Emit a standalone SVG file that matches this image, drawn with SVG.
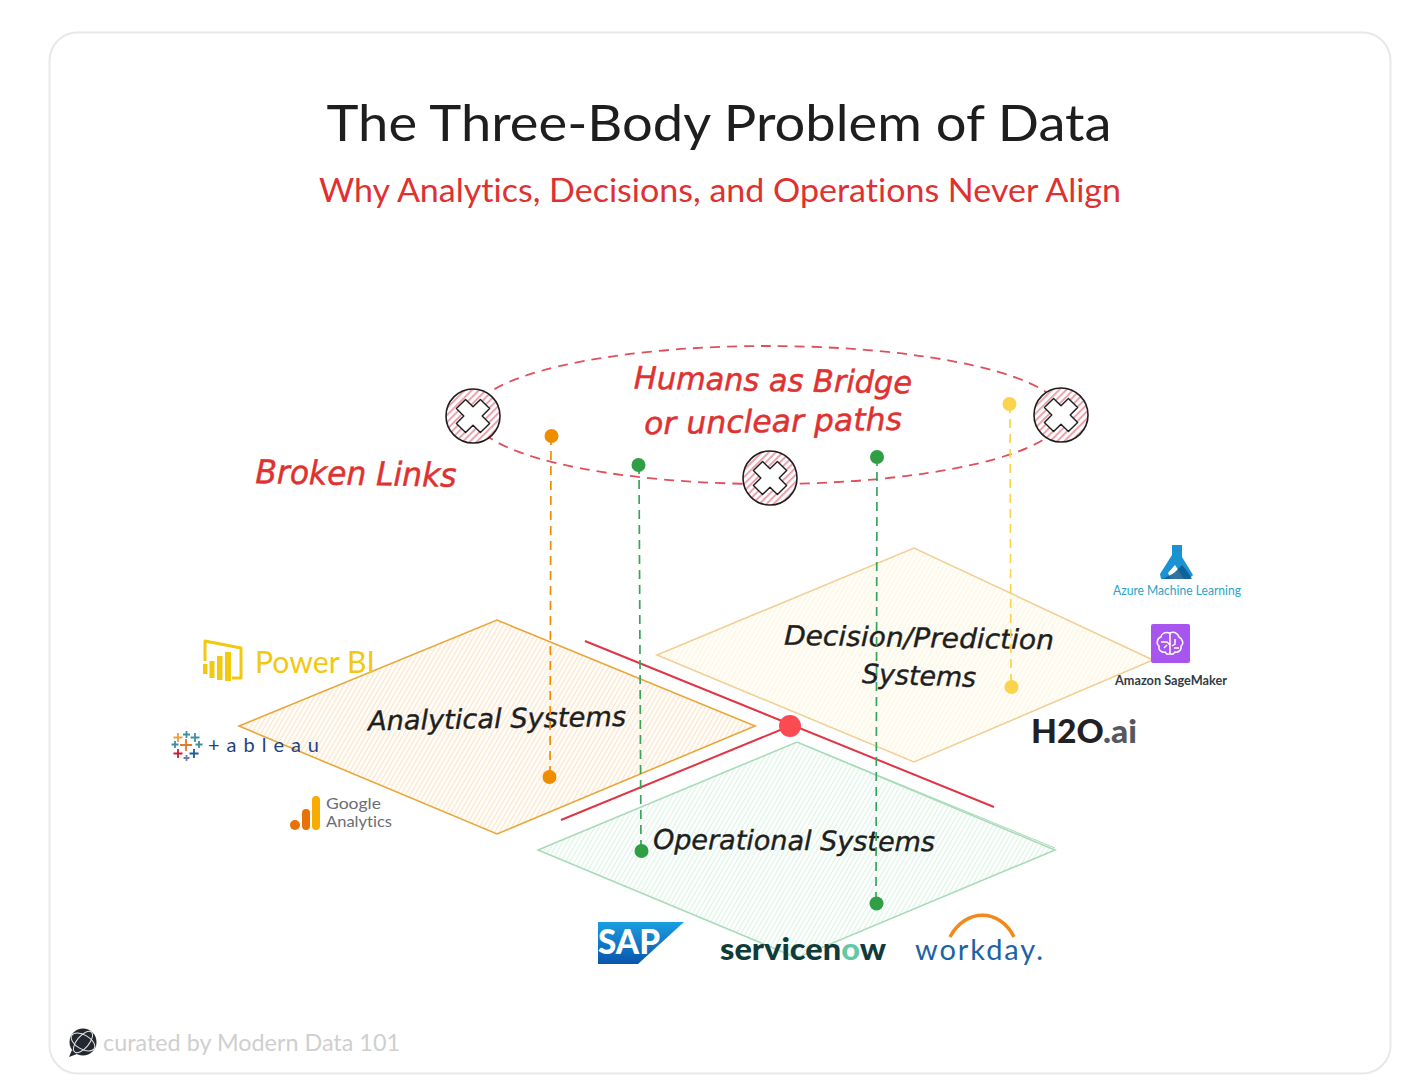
<svg xmlns="http://www.w3.org/2000/svg" width="1410" height="1092" viewBox="0 0 1410 1092">
<style>
text{font-family:"Lato","Noto Sans","Liberation Sans",sans-serif;font-variant-ligatures:none}
.hand{font-family:"DejaVu Sans","Liberation Sans",sans-serif;font-style:oblique}
.red{fill:#e03131;stroke:#e03131;stroke-width:.5}.blk{fill:#1e1e1e}
.hb{stroke:#1e1e1e;stroke-width:.4}
.drop{fill:none;stroke-width:1.7;stroke-dasharray:9 6}
.xc{fill:url(#hx);stroke:#1e1e1e;stroke-width:1.6}
.xm{fill:#fff;stroke:#1e1e1e;stroke-width:1.4;stroke-linejoin:round}
.tp{fill:none;stroke-width:1.8}
</style>
<defs>
<pattern id="ho" width="4" height="4" patternUnits="userSpaceOnUse" patternTransform="rotate(-60)"><rect width="4" height="4" fill="#fffdfa"/><rect width="4" height="1.2" fill="#fae6cc"/></pattern>
<pattern id="hy" width="4" height="4" patternUnits="userSpaceOnUse" patternTransform="rotate(-60)"><rect width="4" height="4" fill="#fffdf7"/><rect width="4" height="1" fill="#fdf5df"/></pattern>
<pattern id="hg" width="4" height="4" patternUnits="userSpaceOnUse" patternTransform="rotate(-60)"><rect width="4" height="4" fill="#fbfefc"/><rect width="4" height="1" fill="#def3e5"/></pattern>
<pattern id="hx" width="5" height="5" patternUnits="userSpaceOnUse" patternTransform="rotate(-45)"><rect width="5" height="5" fill="#fff"/><rect width="5" height="1.8" fill="#eb9aa6"/></pattern>
<linearGradient id="sap" x1="0" y1="0" x2="0" y2="1"><stop offset="0" stop-color="#1a9ee0"/><stop offset="1" stop-color="#0a55ad"/></linearGradient>
<path id="cross" transform="rotate(45)" d="M-6.500-17H6.500V-6.500H17V6.500H6.500V17H-6.500V6.500H-17V-6.500H-6.500Z"/>
<g id="bx"><circle r="27" class="xc"/><use href="#cross" class="xm"/></g>
</defs>
<rect width="1410" height="1092" fill="#fff"/>
<rect id="card" x="49.500" y="32.500" width="1341" height="1041" rx="28" fill="#fff" stroke="#e8e8e8" stroke-width="2"/>
<g id="heading">
<text x="719" y="141" text-anchor="middle" font-size="51" class="blk" textLength="785" lengthAdjust="spacingAndGlyphs">The Three-Body Problem of Data</text>
<text x="720" y="202" text-anchor="middle" font-size="32" fill="#e03131" textLength="802" lengthAdjust="spacingAndGlyphs">Why Analytics, Decisions, and Operations Never Align</text>
</g>
<g id="node-analytical">
<polygon points="239,726 497,620 755,726 497,834" fill="url(#ho)" stroke="#eaa63a" stroke-width="1.6"/>
<text class="hand blk hb" x="497" y="728" font-size="27" text-anchor="middle" textLength="258" lengthAdjust="spacingAndGlyphs" transform="rotate(-1 497 720)">Analytical Systems</text>
</g>
<g id="node-decision">
<polygon points="657,655 914,548 1153,660 914,762" fill="url(#hy)" stroke="#f2cf95" stroke-width="1.6"/>
<text class="hand blk hb" x="919" y="647" font-size="27" text-anchor="middle" textLength="270" lengthAdjust="spacingAndGlyphs" transform="rotate(1 919 640)">Decision/Prediction</text>
<text class="hand blk hb" x="919" y="685" font-size="27" text-anchor="middle" textLength="114" lengthAdjust="spacingAndGlyphs" transform="rotate(2 919 678)">Systems</text>
</g>
<g id="node-operational">
<polygon points="538,850 797,742 1055,850 797,958" fill="url(#hg)" stroke="#a9dbb9" stroke-width="1.6"/>
<path d="M797 742 1055 848" fill="none" stroke="#a9dbb9" stroke-width="1"/>
<text class="hand blk hb" x="794" y="850" font-size="27" text-anchor="middle" textLength="282" lengthAdjust="spacingAndGlyphs" transform="rotate(0.5 794 842)">Operational Systems</text>
</g>
<g id="connectors">
<ellipse cx="768" cy="415" rx="295" ry="69" fill="none" stroke="#e0505c" stroke-width="1.8" stroke-dasharray="10 7"/>
<path d="M585 641 994 807M561 820 790 726" fill="none" stroke="#e03545" stroke-width="2"/>
<path class="drop" stroke="#f08c00" d="M551 436 550 777"/>
<path class="drop" stroke="#3aa35a" d="M639 465 641 851"/>
<path class="drop" stroke="#3aa35a" d="M877 457 876 903"/>
<path class="drop" stroke="#fcd34d" d="M1010 404 1011 687"/>
</g>
<g id="dots">
<circle cx="790" cy="726" r="11" fill="#fa4a52"/>
<circle cx="551.500" cy="436" r="7" fill="#f08c00"/>
<circle cx="638.500" cy="465" r="7" fill="#2f9e44"/>
<circle cx="877" cy="457" r="7" fill="#2f9e44"/>
<circle cx="1009.500" cy="404" r="7" fill="#fcd34d"/>
<circle cx="549.500" cy="777" r="7" fill="#f08c00"/>
<circle cx="1011.500" cy="687" r="7" fill="#fcd34d"/>
<circle cx="641.500" cy="851" r="7" fill="#2f9e44"/>
<circle cx="876.500" cy="903.500" r="7" fill="#2f9e44"/>
</g>
<g id="node-break-left" transform="translate(473 416)"><use href="#bx"/></g>
<g id="node-break-mid" transform="translate(770 478)"><use href="#bx"/></g>
<g id="node-break-right" transform="translate(1061 415)"><use href="#bx"/></g>
<g id="labels">
<text class="hand red" x="773" y="391" font-size="31" text-anchor="middle" textLength="278" lengthAdjust="spacingAndGlyphs" transform="rotate(1 773 381)">Humans as Bridge</text>
<text class="hand red" x="773" y="432" font-size="31" text-anchor="middle" textLength="258" lengthAdjust="spacingAndGlyphs" transform="rotate(-1 773 422)">or unclear paths</text>
<text class="hand red" x="356" y="485" font-size="33" text-anchor="middle" textLength="201" lengthAdjust="spacingAndGlyphs" transform="rotate(1 356 475)">Broken Links</text>
</g>
<g id="logo-powerbi">
<path d="M205 661V641L241 648V678H232" fill="none" stroke="#f2c811" stroke-width="3" stroke-linejoin="round"/>
<path d="M203 664h4.500v10h-4.500zM209.500 661h5v17h-5zM217 656h5.500v24h-5.500zM225 652h6v29h-6z" fill="#f2c811"/>
<text x="255" y="673" font-size="30" fill="#f2c811" textLength="120" lengthAdjust="spacingAndGlyphs">Power BI</text>
</g>
<g id="logo-tableau">
<path class="tp" stroke="#e8762b" d="M186 739v12M180 745h12"/>
<path class="tp" stroke="#e8a23a" d="M178 733v9M173.500 737.500h9"/>
<path class="tp" stroke="#3f8fa3" d="M186.500 731v7M183 734.500h7M195 733v9M190.500 737.500h9M175 741v7M171.500 744.500h7M199 741v7M195.500 744.500h7"/>
<path class="tp" stroke="#c72035" d="M178 749v9M173.500 753.500h9"/>
<path class="tp" stroke="#1f5a9e" d="M194 749v9M189.500 753.500h9"/>
<path class="tp" stroke="#6a7fa8" d="M186.500 755v6M183.500 758h6"/>
<text x="208" y="752" font-size="20" fill="#1f447e" textLength="111" lengthAdjust="spacing">+ableau</text>
</g>
<g id="logo-ga">
<circle cx="295" cy="825" r="5" fill="#e8710a"/>
<rect x="302" y="809" width="8" height="21" rx="4" fill="#e8710a"/>
<rect x="312" y="796" width="8" height="34" rx="4" fill="#f9ab00"/>
<text x="326" y="809" font-size="16" fill="#6a6f74" textLength="55" lengthAdjust="spacingAndGlyphs">Google</text>
<text x="326" y="827" font-size="16" fill="#6a6f74" textLength="66" lengthAdjust="spacingAndGlyphs">Analytics</text>
</g>
<g id="logo-azure">
<path d="M1172 545h10v12l11 18-4 4h-5l-9-14-7 8 3 6h-10l-1-5 12-19z" fill="#1b93d3"/>
<path d="M1163 579h29l-5-8-5-6-8 8z" fill="#0b5a8e" opacity=".85"/>
<text x="1113" y="595" font-size="12.500" fill="#2aa3c9" textLength="128" lengthAdjust="spacingAndGlyphs">Azure Machine Learning</text>
</g>
<g id="logo-sagemaker">
<rect x="1151" y="624" width="39" height="39" rx="2" fill="#a855f0"/>
<path d="M1170 633c-6-2-9 2-9 4-4 1-5 7-2 9-1 4 3 7 6 6 2 3 5 3 5 0zM1170 633c5-2 8 1 9 4 4 2 5 7 2 9 1 4-3 7-6 6-2 3-5 3-5 0zM1161 642h6l3 3M1164 648l3-3M1175 639v5l-3 2M1179 648h-5" fill="none" stroke="#fff" stroke-width="1.500"/>
<text x="1115" y="685" font-size="12.500" font-weight="700" fill="#333a45" textLength="112" lengthAdjust="spacingAndGlyphs">Amazon SageMaker</text>
</g>
<text id="logo-h2o" x="1031" y="743" font-size="32" font-weight="900" fill="#1f2125" textLength="106" lengthAdjust="spacingAndGlyphs">H2O<tspan fill="#55585d">.ai</tspan></text>
<g id="logo-sap">
<polygon points="598,922 684,922 638,964 598,964" fill="url(#sap)"/>
<text x="598" y="954" font-size="34" font-weight="900" fill="#fff" textLength="62" lengthAdjust="spacingAndGlyphs">SAP</text>
</g>
<g id="logo-servicenow"><text x="720" y="960" font-size="30" font-weight="900" fill="#0f3b3a" textLength="166" lengthAdjust="spacingAndGlyphs">servicen<tspan fill="#62c9a5">o</tspan>w</text></g>
<g id="logo-workday">
<path d="M950 937C965 908 1000 908 1014 937" fill="none" stroke="#f08a1d" stroke-width="3.500"/>
<text x="915" y="960" font-size="29" fill="#1d63a4" textLength="128" lengthAdjust="spacing">workday.</text>
</g>
<g id="credit">
<circle cx="83" cy="1042" r="13.500" fill="#23272f"/>
<path d="M72 1050l-3 7 8-3z" fill="#23272f"/>
<ellipse cx="83" cy="1042" rx="13" ry="7" transform="rotate(30 83 1042)" fill="none" stroke="#e5e5e5" stroke-width="1"/>
<ellipse cx="83" cy="1042" rx="13" ry="6" transform="rotate(-50 83 1042)" fill="none" stroke="#e5e5e5" stroke-width="1"/>
<text x="103" y="1051" font-size="23" fill="#cfcfcf" textLength="297" lengthAdjust="spacingAndGlyphs">curated by Modern Data 101</text>
</g>
</svg>
